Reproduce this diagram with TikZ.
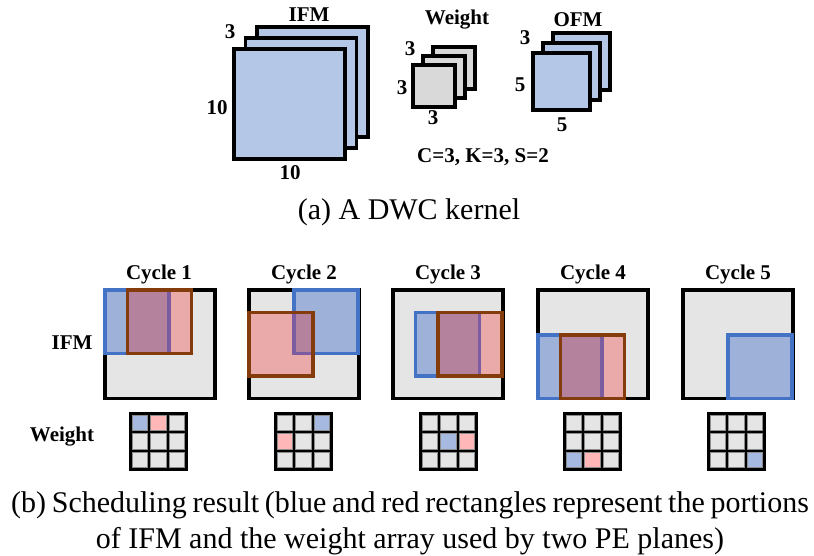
\documentclass[tikz,border=0pt]{standalone}
\usepackage{fontspec}
\setmainfont{Liberation Serif}
\definecolor{ifmblue}{HTML}{B4C7E7}
\definecolor{wgray}{HTML}{D9D9D9}
\definecolor{sqgray}{HTML}{E5E5E5}
\definecolor{bluefill}{HTML}{9DB1D9}
\definecolor{redfill}{HTML}{EBAAAA}
\definecolor{mixfill}{HTML}{B5829D}
\definecolor{blueline}{HTML}{4472C4}
\definecolor{mixline}{HTML}{7B5CA0}
\definecolor{brownline}{HTML}{843C0C}
\definecolor{cellblue}{HTML}{A5B9E1}
\definecolor{cellred}{HTML}{FFB7B7}
\definecolor{cellline}{HTML}{8C8C8C}

% one IFM panel: left x, blue offset (x,y), red offset (x,y)
\newcommand{\dwcpanel}[5]{%
  \begin{scope}[shift={(#1,290)}]
    \fill[sqgray] (0,0) rectangle (110,108.5);
    \draw[sqborder] (0,0) rectangle (110,108.5);
    \fill[bluefill] (#2,#3) rectangle ++(64,63.5);
    \fill[redfill] (#4,#5) rectangle ++(64,63.5);
    \begin{scope}
      \clip (#2,#3) rectangle ++(64,63.5);
      \fill[mixfill] (#4,#5) rectangle ++(64,63.5);
    \end{scope}
    \draw[winline, blueline] (#2,#3) rectangle ++(64,63.5);
    \begin{scope}
      \clip (#4,#5) rectangle ++(64,63.5);
      \draw[winline, mixline] (#2,#3) rectangle ++(64,63.5);
    \end{scope}
    \draw[winline, brownline] (#4,#5) rectangle ++(64,63.5);
  \end{scope}}

% 3x3 weight array with its left x
\newcommand{\wgrid}[1]{%
  \begin{scope}[shift={(#1,412)}]
    \fill[black] (0,0) rectangle (59,59);
    \foreach \i in {0,1,2}{\foreach \j in {0,1,2}{
      \filldraw[fill=sqgray, draw=cellline, line width=0.8pt]
        ({3.2+\i*18.6},{3.2+\j*18.6}) rectangle ++(15.4,15.4);}}
  \end{scope}}
% coloured cell: left x, column, row, colour
\newcommand{\wcell}[4]{%
  \filldraw[fill=#4, draw=cellline, line width=0.8pt]
    ({#1+3.2+#2*18.6},{412+3.2+#3*18.6}) rectangle ++(15.4,15.4);}

\begin{document}
\begin{tikzpicture}[x=1pt,y=-1pt,
  lbl/.style={inner sep=0pt, font=\fontsize{21}{24}\selectfont\bfseries},
  captext/.style={inner sep=0pt, font=\fontsize{30}{37}\selectfont},
  stackbox/.style={draw=black, line width=3.2pt},
  sqborder/.style={draw=black, line width=3.4pt},
  winline/.style={line width=3.2pt}]
\useasboundingbox (0,0) rectangle (814,556);

% --- (a) tensors of the kernel ---
\foreach \k in {2,1,0}
  \filldraw[stackbox, fill=ifmblue] ({234+11.5*\k},{49-11*\k}) rectangle ++(111,110);
\foreach \k in {2,1,0}
  \filldraw[stackbox, fill=wgray] ({413+10*\k},{65-9*\k}) rectangle ++(42,42);
\foreach \k in {2,1,0}
  \filldraw[stackbox, fill=ifmblue] ({533+10*\k},{53-10*\k}) rectangle ++(57,57);

\node[lbl] (ifmt) at (309,15) {IFM};
\node[lbl] (ifmc) at (230,32) {3};
\node[lbl] (ifmh) at (217,108) {10};
\node[lbl] (ifmw) at (290,173) {10};
\node[lbl] (wt) at (457,20) {Weight};
\node[lbl] (wc) at (410,49) {3};
\node[lbl] (wh) at (402,88) {3};
\node[lbl] (ww) at (433,118) {3};
\node[lbl] (ofmt) at (578,20) {OFM};
\node[lbl] (ofmc) at (525,38) {3};
\node[lbl] (ofmh) at (520,85) {5};
\node[lbl] (ofmw) at (562,125) {5};
\node[lbl] (params) at (483,157) {C=3, K=3, S=2};
\node[captext] (capa) at (409,212) {(a) A DWC kernel};

% --- (b) schedule over five cycles ---
\node[lbl] (rowifm) at (72,343) {IFM};
\node[lbl] (rowwt) at (62,437) {Weight};

\node[lbl] (c1) at (159,274) {Cycle 1};
\node[lbl] (c2) at (304,274) {Cycle 2};
\node[lbl] (c3) at (448,274) {Cycle 3};
\node[lbl] (c4) at (593,274) {Cycle 4};
\node[lbl] (c5) at (738,274) {Cycle 5};

\dwcpanel{105}{0}{0}{22.5}{0}
\dwcpanel{249}{45}{0}{0}{22.5}
\dwcpanel{393}{22.5}{22.5}{45}{22.5}
\dwcpanel{538}{0}{45}{22.5}{45}
\begin{scope}[shift={(683,290)}]
  \fill[sqgray] (0,0) rectangle (110,108.5);
  \draw[sqborder] (0,0) rectangle (110,108.5);
  \fill[bluefill] (45,45) rectangle ++(64,63.5);
  \draw[winline, blueline] (45,45) rectangle ++(64,63.5);
\end{scope}

\wgrid{129}
\wcell{129}{0}{0}{cellblue}
\wcell{129}{1}{0}{cellred}
\wgrid{274}
\wcell{274}{2}{0}{cellblue}
\wcell{274}{0}{1}{cellred}
\wgrid{419}
\wcell{419}{1}{1}{cellblue}
\wcell{419}{2}{1}{cellred}
\wgrid{563}
\wcell{563}{0}{2}{cellblue}
\wcell{563}{1}{2}{cellred}
\wgrid{707}
\wcell{707}{2}{2}{cellblue}

\node[captext] (capb1) at (410,505) {\spaceskip=0.19em\relax(b) Scheduling result (blue and red rectangles represent the portions};
\node[captext] (capb2) at (410,541) {of IFM and the weight array used by two PE planes)};
\end{tikzpicture}
\end{document}
